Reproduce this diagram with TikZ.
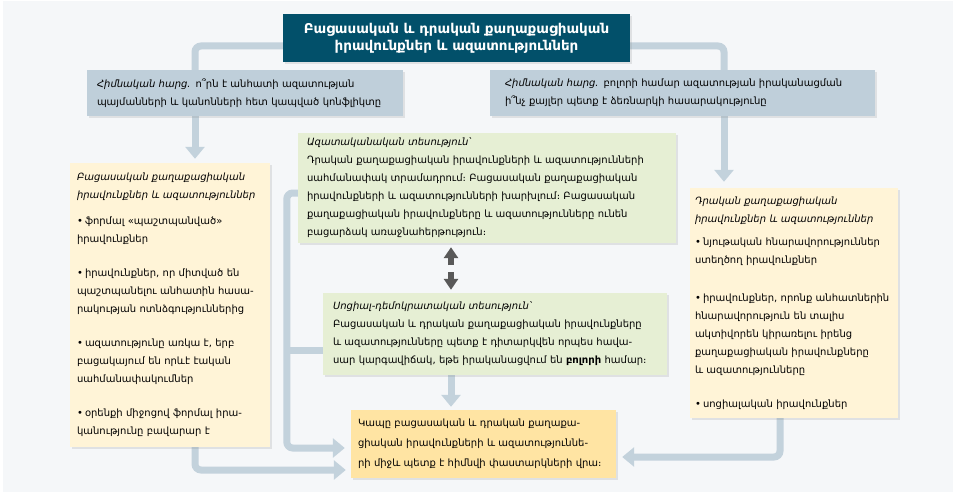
\documentclass[tikz,border=0pt]{standalone}
\usepackage{fontspec}
\setmainfont{DejaVu Sans}[BoldFont={DejaVu Sans Bold},ItalicFont={DejaVu Sans Oblique},BoldItalicFont={DejaVu Sans Bold Oblique}]
\usetikzlibrary{arrows.meta,shadows,backgrounds,calc}
\definecolor{pagebg}{HTML}{F5F7F9}
\definecolor{titleteal}{HTML}{02506A}
\definecolor{askblue}{HTML}{BFCFDA}
\definecolor{linkgray}{HTML}{C3D2DC}
\definecolor{creamfill}{HTML}{FFF4D7}
\definecolor{sagefill}{HTML}{E6EFD4}
\definecolor{goldfill}{HTML}{FFE4A3}
\definecolor{arrowdark}{HTML}{595959}
\newcommand{\corps}{\fontsize{10}{18}\selectfont}
\newcommand{\puce}[1]{\par\hangindent=9pt\hangafter=1\noindent\makebox[8pt][l]{•}#1\par}
\tikzset{
  box/.style={inner ysep=0pt,align=left,font=\corps,drop shadow={shadow xshift=2pt,shadow yshift=-2pt,opacity=0.18}},
  askbox/.style={box,fill=askblue,minimum height=46pt},
  listbox/.style={box,fill=creamfill},
  viewbox/.style={box,fill=sagefill},
  endbox/.style={box,fill=goldfill},
  titlebox/.style={fill=titleteal,text=white,font=\bfseries\fontsize{13.5}{17}\selectfont,align=center,minimum width=347pt,minimum height=48pt,inner sep=0pt,drop shadow={shadow xshift=2pt,shadow yshift=-2pt,opacity=0.18}},
  bar/.style={draw=linkgray,line width=7pt,rounded corners=6pt},
  conn/.style={bar,-{Triangle[length=12pt,width=19pt]}},
  twoway/.style={draw=arrowdark,line width=5.5pt,-{Triangle[length=11pt,width=14pt]}}
}
\begin{document}
\begin{tikzpicture}[x=1pt,y=-1pt]
  \node[titlebox] (title) at (456.5,38) {Բացասական և դրական քաղաքացիական\\իրավունքներ և ազատություններ};
  \node[askbox,text width=296pt,inner xsep=10pt] (qleft) at (245,93) {\textit{Հիմնական հարց.} ո՞րն է անհատի ազատության\\պայմանների և կանոնների հետ կապված կոնֆլիկտը};
  \node[askbox,text width=355pt,inner xsep=15pt] (qright) at (682.5,93) {\textit{Հիմնական հարց.} բոլորի համար ազատության իրականացման\\ի՞նչ քայլեր պետք է ձեռնարկի հասարակությունը};
  \node[listbox,text width=186pt,inner xsep=7pt,minimum height=284pt] (ylft) at (170,305) {{\itshape Բացասական քաղաքացիական\\իրավունքներ և ազատություններ}\par\vspace{8pt}
    \puce{ֆորմալ «պաշտպանված»\\իրավունքներ}\vspace{16pt}
    \puce{իրավունքներ, որ միտված են\\պաշտպանելու անհատին հասա-\\րակության ոտնձգություններից}\vspace{16pt}
    \puce{ազատությունը առկա է, երբ\\բացակայում են որևէ էական\\սահմանափակումներ}\vspace{16pt}
    \puce{օրենքի միջոցով ֆորմալ իրա-\\կանությունը բավարար է}};
  \node[listbox,text width=198pt,inner xsep=5pt,minimum height=230pt] (yrgt) at (794,303) {{\itshape Դրական քաղաքացիական\\իրավունքներ և ազատություններ}\par\vspace{5pt}
    \puce{նյութական հնարավորություններ\\ստեղծող իրավունքներ}\vspace{20pt}
    \puce{իրավունքներ, որոնք անհատներին\\հնարավորություն են տալիս\\ակտիվորեն կիրառելու իրենց\\քաղաքացիական իրավունքները\\և ազատությունները}\vspace{16pt}
    \puce{սոցիալական իրավունքներ}};
  \node[viewbox,text width=360pt,inner xsep=9pt,minimum height=110pt] (g1) at (487,188) {\textit{Ազատականական տեսություն՝}\\Դրական քաղաքացիական իրավունքների և ազատությունների\\սահմանափակ տրամադրում։ Բացասական քաղաքացիական\\իրավունքների և ազատությունների խարխլում։ Բացասական\\քաղաքացիական իրավունքները և ազատությունները ունեն\\բացարձակ առաջնահերթություն։};
  \node[viewbox,text width=324pt,inner xsep=10pt,minimum height=82pt] (g2) at (495,334) {\textit{Սոցիալ-դեմոկրատական տեսություն՝}\\Բացասական և դրական քաղաքացիական իրավունքները\\և ազատությունները պետք է դիտարկվեն որպես հավա-\\սար կարգավիճակ, եթե իրականացվում են \textbf{բոլորի} համար։};
  \node[endbox,text width=251pt,inner xsep=7pt,minimum height=68pt,font=\fontsize{10}{20}\selectfont] (bb) at (483.5,444) {Կապը բացասական և դրական քաղաքա-\\ցիական իրավունքների և ազատություննե-\\րի միջև պետք է հիմնվի փաստարկների վրա։};
  \coordinate (barmid) at ([yshift=-8pt]title.center);
  \coordinate (qlout) at ([xshift=-50pt]qleft.south);
  \coordinate (qrout) at ([xshift=41.5pt]qright.south);
  \coordinate (spine) at ([xshift=-11pt]g1.west);
  \coordinate (g2out) at ([xshift=-44pt]g2.south);
  \coordinate (bbin1) at ([yshift=-4pt]bb.west);
  \coordinate (bbin2) at ([yshift=-26pt]bb.west);
  \coordinate (bbin3) at ([yshift=-13pt]bb.east);
  \coordinate (gtop) at ([xshift=-36pt]g1.south);
  \coordinate (gbot) at (gtop |- g2.north);
  \coordinate (gmid) at ($(gtop)!0.5!(gbot)$);
  \draw[twoway,shorten <=3pt,shorten >=4pt] (gmid) -- (gtop);
  \draw[twoway,shorten <=4pt,shorten >=3pt] (gmid) -- (gbot);
  \begin{scope}[on background layer]
    \fill[white] (0,0) rectangle (956,492);
    \fill[pagebg] (3,1) rectangle (953,492);
    \draw[bar] ([xshift=-50pt]qleft.north) |- (barmid) -| ([xshift=41.5pt]qright.north);
    \draw[conn,shorten >=4pt] (qlout) -- (qlout |- ylft.north);
    \draw[conn,shorten >=6pt] (qrout) -- (qrout |- yrgt.north);
    \draw[conn,shorten >=6pt] ([yshift=-5pt]g1.west) -| (spine |- bbin1) -- (bbin1);
    \draw[bar] ([yshift=-16pt]g2.west) -- ([yshift=-16pt]g2.west -| spine);
    \draw[conn,shorten >=5pt] ([xshift=25pt]ylft.south) |- (bbin2);
    \draw[conn,shorten >=6pt] ([xshift=-14pt]yrgt.south) |- (bbin3);
    \draw[conn,shorten >=3pt] (g2out) -- (g2out |- bb.north);
  \end{scope}
\end{tikzpicture}
\end{document}
